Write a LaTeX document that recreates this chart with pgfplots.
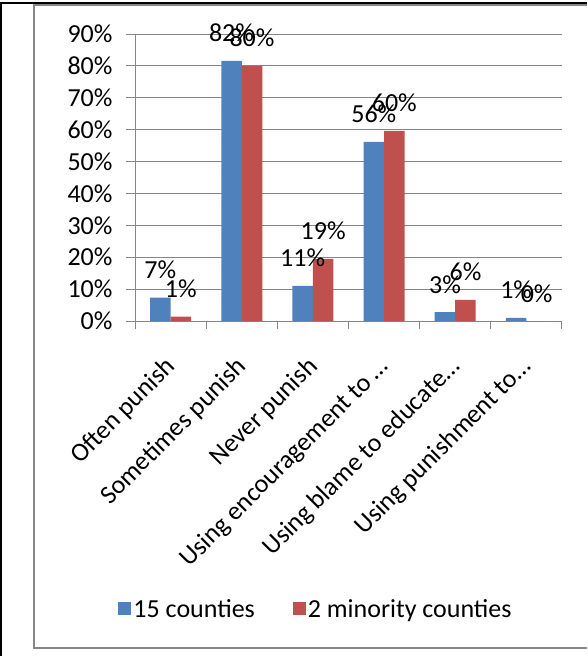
\documentclass[border=0pt]{standalone}
\usepackage{pgfplots}
\pgfplotsset{compat=1.18}
\usepackage{fontspec}
\setmainfont{Carlito}
\definecolor{sblue}{HTML}{4F81BD}
\definecolor{sred}{HTML}{C0504D}
\definecolor{axgray}{HTML}{868686}
\begin{document}
\begin{tikzpicture}[x=1pt,y=1pt]
\useasboundingbox (0,0) rectangle (587,656);
\fill[white] (0,0) rectangle (587,656);
\draw[black,line width=1.5pt] (0.75,0) -- (0.75,653) -- (587,653);
\draw[axgray,line width=1.5pt] (587,651) -- (34,651) -- (34,8) -- (587,8);
\begin{axis}[
  at={(135pt,335pt)}, anchor=south west,
  scale only axis, width=427pt, height=287pt,
  xmin=-0.5, xmax=5.5, ymin=0, ymax=90,
  ybar=0pt, bar width=20.5pt,
  axis lines*=left,
  axis line style={axgray, line width=1pt},
  ytick={0,10,...,90},
  yticklabel={\pgfmathprintnumber{\tick}\%},
  ymajorgrids, grid style={axgray, line width=1pt},
  major tick length=9pt, tick align=outside,
  ytick style={axgray, line width=1pt},
  yticklabel style={xshift=-10pt},
  xtick={0,...,5},
  xticklabels={Often punish, Sometimes punish, Never punish, Using encouragement to …, Using blame to educate…, Using punishment to…},
  xtick style={draw=none},
  xticklabel style={yshift=-33pt, xshift=1pt, rotate=45, anchor=east, inner sep=0pt},
  extra x ticks={-0.5,0.5,...,5.5},
  extra x tick labels={},
  extra x tick style={xtick style={draw=axgray, line width=1pt}, major tick length=8pt, grid=none},
  /pgf/number format/assume math mode=true,
  tick label style={font=\fontsize{26}{29}\selectfont},
  point meta=explicit,
  nodes near coords={\pgfmathprintnumber{\pgfplotspointmeta}\%},
  nodes near coords style={font=\fontsize{26}{29}\selectfont, anchor=base, inner sep=0pt, yshift=19pt, text=black},
  legend style={at={(0.424,-1.003)}, anchor=center, draw=none, fill=none,
    legend columns=2, font=\fontsize{26}{30}\selectfont,
    /tikz/every even column/.append style={column sep=36pt}},
  legend image code/.code={\fill[#1] (0pt,-6.5pt) rectangle (13pt,6.5pt);},
  clip=false,
]
\addplot[fill=sblue, draw=none] coordinates {(0,7.3)[7] (1,81.6)[82] (2,11)[11] (3,56.2)[56] (4,2.8)[3] (5,0.95)[1]};
\addplot[fill=sred, draw=none] coordinates {(0,1.35)[1] (1,80)[80] (2,19.5)[19] (3,59.6)[60] (4,6.6)[6] (5,0)[0]};
\legend{15 counties, 2 minority counties}
\end{axis}
\end{tikzpicture}
\end{document}
